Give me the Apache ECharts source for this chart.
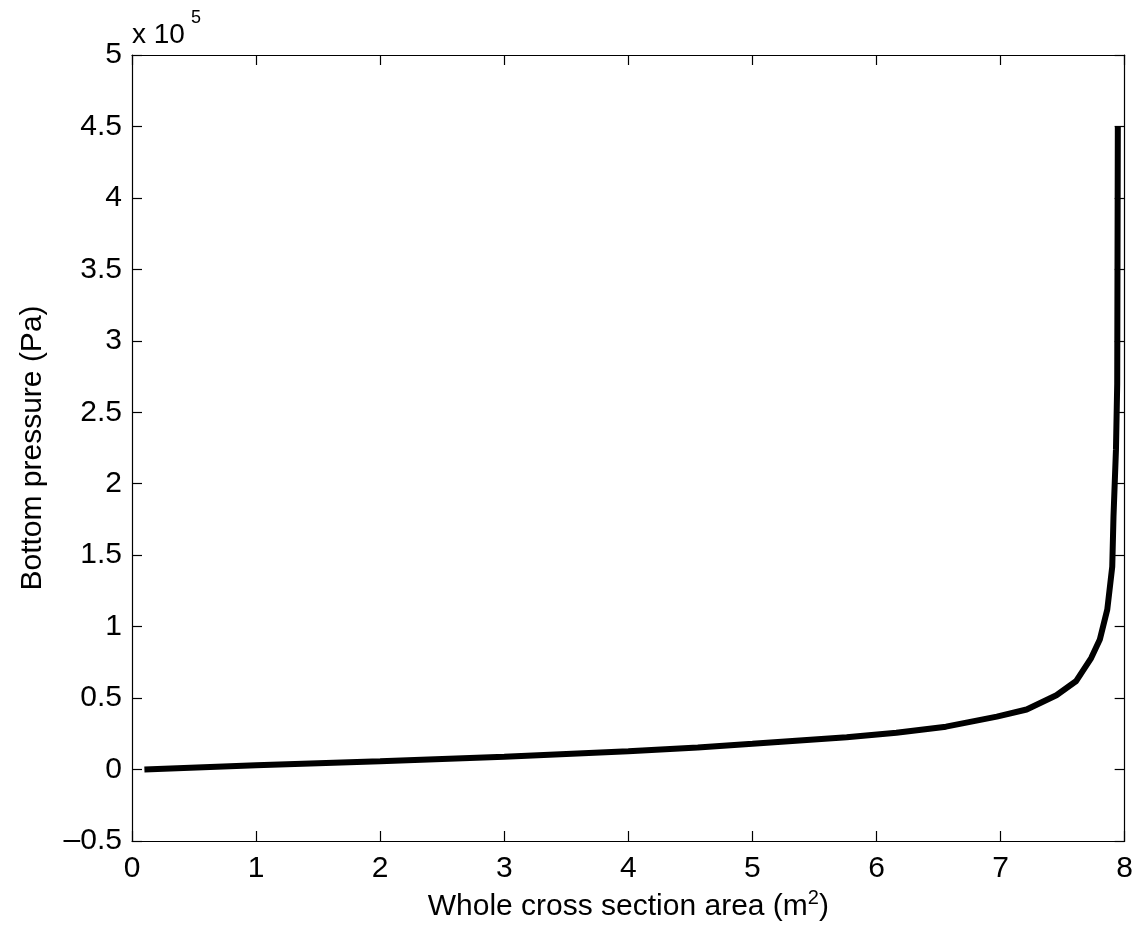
<html>
<head>
<meta charset="UTF-8">
<title>Bottom pressure</title>
<script type="text/javascript" src="https://cdn.jsdelivr.net/npm/echarts@6/dist/echarts.min.js"></script>
<style>
  body { margin: 0; background: #fff; }
  #main { width: 1136px; height: 935px; }
</style>
</head>
<body>
<div id="main"></div>
<script type="text/javascript">
	// 横坐标：总截面面积 (m2)
	var area = [0.1, 1, 2, 3, 4, 4.56, 5, 5.76, 6.16, 6.56, 6.97, 7.21, 7.45, 7.61, 7.73, 7.8, 7.86, 7.9, 7.91, 7.93, 7.94, 7.945];
	// 纵坐标：底部压力 (x 10^5 Pa)
	var pressure = [0, 0.03, 0.058, 0.09, 0.128, 0.155, 0.18, 0.226, 0.257, 0.30, 0.37, 0.42, 0.52, 0.62, 0.78, 0.91, 1.12, 1.42, 1.77, 2.24, 2.7, 4.5];
	var xTicks = [0, 1, 2, 3, 4, 5, 6, 7, 8];
	var yTicks = [-0.5, 0, 0.5, 1, 1.5, 2, 2.5, 3, 3.5, 4, 4.5, 5];

	var pts = [];
	for (var i = 0; i < area.length; i++) {
		pts.push([area[i], pressure[i]]);
	}

	var font = 'Liberation Sans, Arial, Helvetica, sans-serif';
	var myChart = echarts.init(document.getElementById('main'));

	var axisLine = { show: true, onZero: false, lineStyle: { color: '#000', width: 1.2 } };
	var tick = { show: true, inside: true, length: 10, lineStyle: { color: '#000', width: 1.2 } };

	var option = {
		animation: false,
		backgroundColor: '#fff',
		grid: { left: 132, right: 7, top: 55, bottom: 94, containLabel: false },
		xAxis: [{
			type: 'value',
			min: xTicks[0], max: xTicks[xTicks.length - 1], interval: 1,
			axisLine: axisLine, axisTick: tick, splitLine: { show: false },
			axisLabel: { color: '#000', fontSize: 30, fontFamily: font, margin: 13 },
			name: 'Whole cross section area (m{sup|2})',
			nameLocation: 'middle', nameGap: 47,
			nameTextStyle: {
				color: '#000', fontSize: 30, fontFamily: font,
				rich: { sup: { fontSize: 20, verticalAlign: 'top', padding: [0, 0, 16, 0], color: '#000', fontFamily: font } }
			}
		}, {
			type: 'value', position: 'top',
			min: xTicks[0], max: xTicks[xTicks.length - 1], interval: 1,
			axisLine: axisLine, axisTick: tick, axisLabel: { show: false }, splitLine: { show: false }
		}],
		yAxis: [{
			type: 'value',
			min: yTicks[0], max: yTicks[yTicks.length - 1], interval: 0.5,
			axisLine: axisLine, axisTick: tick, splitLine: { show: false },
			axisLabel: {
				color: '#000', fontSize: 30, fontFamily: font, margin: 10,
				formatter: function (v) { return v < 0 ? '\u2013' + Math.abs(v) : String(v); }
			},
			name: 'Bottom pressure (Pa)',
			nameLocation: 'middle', nameGap: 84, nameRotate: 90,
			nameTextStyle: { color: '#000', fontSize: 30, fontFamily: font }
		}, {
			type: 'value', position: 'right',
			min: yTicks[0], max: yTicks[yTicks.length - 1], interval: 0.5,
			axisLine: axisLine, axisTick: tick, axisLabel: { show: false }, splitLine: { show: false }
		}],
		graphic: [{
			type: 'text', left: 132, top: 21,
			style: { text: 'x 10', fill: '#000', font: '28px ' + font }
		}, {
			type: 'text', left: 191, top: 9,
			style: { text: '5', fill: '#000', font: '18px ' + font }
		}],
		series: [{
			type: 'line',
			data: pts,
			showSymbol: false,
			lineStyle: { color: '#000', width: 6 },
			xAxisIndex: 0, yAxisIndex: 0
		}]
	};
	myChart.setOption(option);
</script>
</body>
</html>
